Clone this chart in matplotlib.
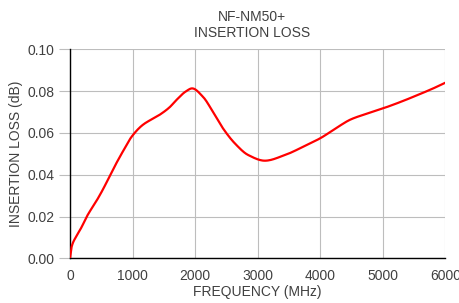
import matplotlib
matplotlib.use("Agg")
import matplotlib.pyplot as plt
import numpy as np

freq_mhz = [0, 26, 96, 176, 282, 416, 522, 682, 843, 986, 1162, 1430, 1590, 1700,
            1850, 1952, 2125, 2285, 2445, 2635, 2850, 3115, 3435, 3730, 4010, 4275, 4485,
            4755, 5010, 5300, 5555, 5800, 6000]
loss_db = [0.0, 0.0055, 0.0103, 0.0144, 0.0207, 0.0271, 0.0327, 0.0422, 0.051, 0.0582,
           0.0638, 0.0686, 0.0722, 0.0757, 0.0798, 0.0813, 0.0773, 0.0701, 0.0622, 0.055,
           0.0494, 0.0467, 0.0494, 0.0534, 0.0576, 0.0627, 0.0664, 0.0693, 0.0718, 0.075,
           0.0781, 0.0812, 0.084]
x_ticks = [0, 1000, 2000, 3000, 4000, 5000, 6000]
y_ticks = [0.00, 0.02, 0.04, 0.06, 0.08, 0.10]
y_tick_labels = ["0.00", "0.02", "0.04", "0.06", "0.08", "0.10"]
title = "NF-NM50+\nINSERTION LOSS"
x_label = "FREQUENCY (MHz)"
y_label = "INSERTION LOSS (dB)"


def smooth_path(xs, ys, n=20):
    """Monotone cubic Hermite (Fritsch-Carlson) for drawing a smooth line through points."""
    x = np.asarray(xs, float)
    y = np.asarray(ys, float)
    h = np.diff(x)
    d = np.diff(y) / h
    m = np.zeros_like(y)
    m[0] = d[0]
    m[-1] = d[-1]
    for i in range(1, len(x) - 1):
        if d[i - 1] * d[i] <= 0:
            m[i] = 0.0
        else:
            w1 = 2 * h[i] + h[i - 1]
            w2 = h[i] + 2 * h[i - 1]
            m[i] = (w1 + w2) / (w1 / d[i - 1] + w2 / d[i])
    px, py = [], []
    for i in range(len(x) - 1):
        t = np.linspace(0, 1, n, endpoint=False)
        h00 = 2 * t**3 - 3 * t**2 + 1
        h10 = t**3 - 2 * t**2 + t
        h01 = -2 * t**3 + 3 * t**2
        h11 = t**3 - t**2
        px.extend(x[i] + t * h[i])
        py.extend(h00 * y[i] + h10 * h[i] * m[i] + h01 * y[i + 1] + h11 * h[i] * m[i + 1])
    px.append(x[-1])
    py.append(y[-1])
    return px, py


plt.rcParams['font.family'] = ['Liberation Sans', 'DejaVu Sans']
txt = '#404040'
fs = 10

fig = plt.figure(figsize=(4.59, 3.03), dpi=100)
ax = fig.add_axes([70/459, 1-258.3/303, (445.3-70)/459, (258.3-49.3)/303])

sx, sy = smooth_path(freq_mhz, loss_db)
ax.plot(sx, sy, color='#ff0000', lw=1.6, solid_joinstyle='round', zorder=3)

ax.set_xlim(0, 6000)
ax.set_ylim(0, 0.10)
ax.set_xticks(x_ticks)
ax.set_xticklabels([str(v) for v in x_ticks])
ax.set_yticks(y_ticks)
ax.set_yticklabels(y_tick_labels)
ax.grid(True, color='#bdbdbd', lw=0.8)
ax.set_axisbelow(True)
for s in ['top', 'right']:
    ax.spines[s].set_visible(False)
ax.spines['left'].set_color('black')
ax.spines['bottom'].set_color('black')
ax.spines['left'].set_linewidth(1.0)
ax.spines['bottom'].set_linewidth(1.0)
ax.tick_params(axis='y', length=8, color='#bdbdbd', width=0.8, labelsize=fs, labelcolor=txt, pad=3)
ax.tick_params(axis='x', length=0, labelsize=fs, labelcolor=txt, pad=7.5)

ax.set_xlabel(x_label, fontsize=fs, color=txt, labelpad=2)
ax.set_ylabel(y_label, fontsize=fs, color=txt, labelpad=3)
fig.text(252/459, 1-25/303, title, ha='center', va='center', fontsize=fs, color=txt, linespacing=1.15)

fig.savefig('out.png', dpi=100)
